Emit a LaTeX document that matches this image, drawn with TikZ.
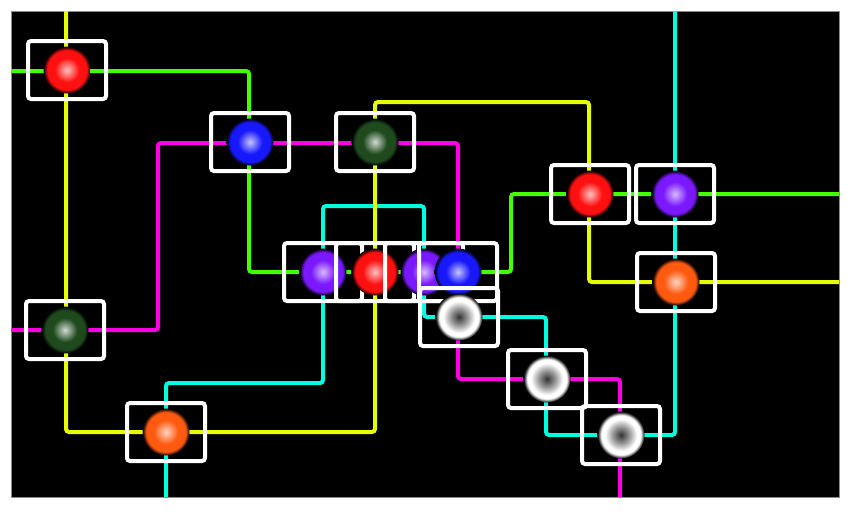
\documentclass[tikz,border=0pt]{standalone}
\definecolor{lyellow}{HTML}{E6FF00}
\definecolor{lgreen}{HTML}{44FF00}
\definecolor{lmagenta}{HTML}{FF00E6}
\definecolor{lcyan}{HTML}{00FFE0}
\definecolor{cred}{HTML}{FF1010}
\definecolor{cblue}{HTML}{1818FF}
\definecolor{cdgreen}{HTML}{1E4A1E}
\definecolor{cpurple}{HTML}{7A18FF}
\definecolor{corange}{HTML}{FF5A10}
\newcommand\mkball[3]{\pgfdeclareradialshading{#1}{\pgfpointorigin}{color(0bp)=(#2); color(13bp)=(#3); color(21bp)=(#3); color(25bp)=(black); color(50bp)=(black)}}
\mkball{ballred}{cred!25!white}{cred}
\mkball{ballblue}{cblue!25!white}{cblue}
\mkball{balldgreen}{cdgreen!20!white}{cdgreen}
\mkball{ballpurple}{cpurple!30!white}{cpurple}
\mkball{ballorange}{corange!25!white}{corange}
\pgfdeclareradialshading{ballwhite}{\pgfpointorigin}{color(0bp)=(black!80); color(10bp)=(black!35); color(17bp)=(white); color(21bp)=(white); color(25bp)=(black); color(50bp)=(black)}
\begin{document}
\begin{tikzpicture}[x=1pt,y=-1pt,
  metro/.style={line width=4pt, rounded corners=3pt},
  box/.style={draw=white, line width=4pt, rounded corners=3pt, minimum width=78pt, minimum height=58pt, inner sep=0pt},
  ball/.style={circle, minimum size=47pt, inner sep=0pt}]
\useasboundingbox (0,0) rectangle (854,512);
\fill[white] (0,0) rectangle (854,512);
\draw[fill=black, draw=black!45, line width=1pt] (11,11) rectangle (839,497);
% station positions
\coordinate (pA) at (67,70);
\coordinate (pB) at (250,142);
\coordinate (pC) at (375,142);
\coordinate (pD) at (590,194);
\coordinate (pE) at (675,194);
\coordinate (pF) at (676,282);
\coordinate (pG) at (65,330);
\coordinate (pH) at (166,432);
\coordinate (pI) at (323,272);
\coordinate (pJ) at (375,272);
\coordinate (pK) at (424,272);
\coordinate (pL) at (458,272);
\coordinate (pM) at (459,317);
\coordinate (pN) at (547,379);
\coordinate (pO) at (621,435);
% line ends and corners
\coordinate (y0) at (66,11);
\coordinate (y1) at (66,432);
\coordinate (y2) at (375,432);
\coordinate (y3) at (375,102);
\coordinate (y4) at (589,102);
\coordinate (y5) at (589,282);
\coordinate (y6) at (839,282);
\coordinate (g0) at (11,71);
\coordinate (g1) at (249,71);
\coordinate (g2) at (249,272);
\coordinate (g3) at (511,272);
\coordinate (g4) at (511,194);
\coordinate (g5) at (839,194);
\coordinate (m0) at (11,330);
\coordinate (m1) at (158,330);
\coordinate (m2) at (158,143);
\coordinate (m3) at (458,143);
\coordinate (m4) at (458,379);
\coordinate (m5) at (620,379);
\coordinate (m6) at (620,497);
\coordinate (c0) at (166,497);
\coordinate (c1) at (166,383);
\coordinate (c2) at (323,383);
\coordinate (c3) at (323,206);
\coordinate (c4) at (424,206);
\coordinate (c5) at (424,317);
\coordinate (c6) at (546,317);
\coordinate (c7) at (546,435);
\coordinate (c8) at (675,435);
\coordinate (c9) at (675,11);
% lines
\draw[metro, lcyan] (c0) -- (c1) -- (c2) -- (c3) -- (c4) -- (c5) -- (c6) -- (c7) -- (c8) -- (c9);
\draw[metro, lmagenta] (m0) -- (m1) -- (m2) -- (m3) -- (m4) -- (m5) -- (m6);
\draw[metro, lgreen] (g0) -- (g1) -- (g2) -- (g3) -- (g4) -- (g5);
\draw[metro, lyellow] (y0) -- (y1) -- (y2) -- (y3) -- (y4) -- (y5) -- (y6);
% stations
\foreach \s/\c in {A/ballred, B/ballblue, C/balldgreen, D/ballred, E/ballpurple, F/ballorange, G/balldgreen, H/ballorange, I/ballpurple, J/ballred, K/ballpurple, L/ballblue, M/ballwhite, N/ballwhite, O/ballwhite}{
  \node[box] (b\s) at (p\s) {};
  \node[ball, shading=\c] (\s) at (p\s) {};
}
\end{tikzpicture}
\end{document}
